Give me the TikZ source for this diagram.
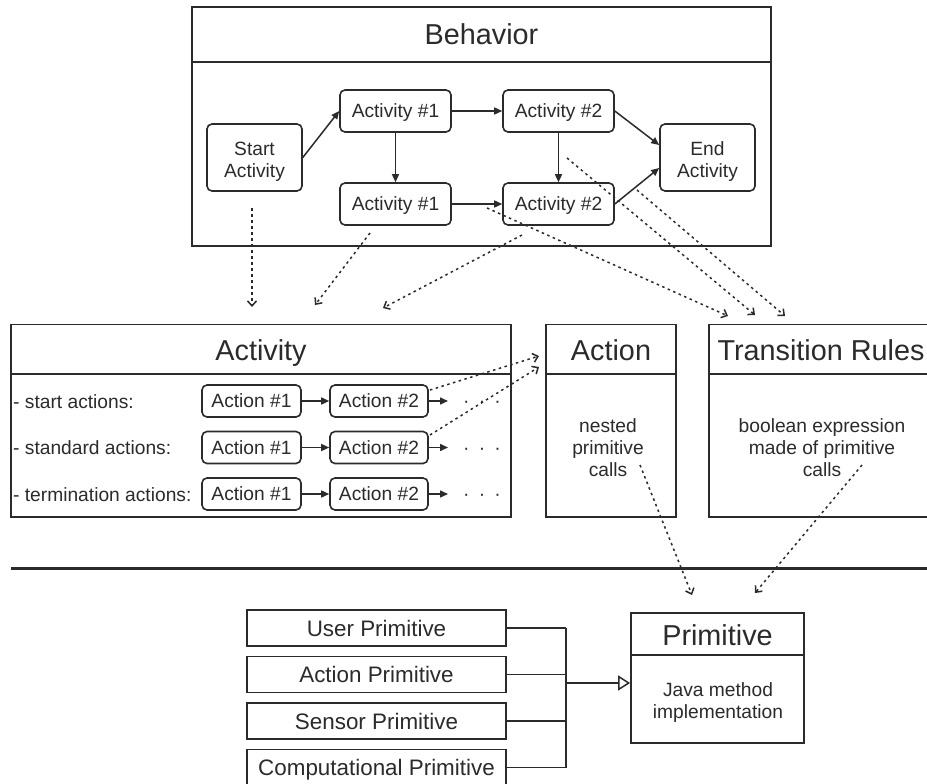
\documentclass[tikz,border=0pt]{standalone}
\usepackage{fontspec}
\setmainfont{Liberation Sans}
\usetikzlibrary{arrows.meta,calc}

\definecolor{ink}{HTML}{2B2B2B}

\tikzset{
  frame/.style={draw=ink, line width=1.8pt, inner sep=0pt, rectangle},
  divider/.style={draw=ink, line width=1.8pt},
  rbox/.style={draw=ink, line width=1.6pt, rounded corners=5pt, inner sep=0pt,
    font=\fontsize{19.2}{22}\selectfont, text=ink, text height=13.8pt, text depth=0pt},
  pbox/.style={draw=ink, line width=1.6pt, inner sep=0pt, minimum width=259pt,
    minimum height=36pt, font=\fontsize{22.4}{26}\selectfont, text=ink,
    text height=16pt, text depth=0pt},
  title/.style={anchor=base, inner sep=0pt, font=\fontsize{28.8}{34}\selectfont, text=ink},
  txt/.style={anchor=base, inner sep=0pt, font=\fontsize{19.2}{22}\selectfont, text=ink},
  flow/.style={draw=ink, line width=1.5pt, -{Triangle[length=8pt,width=7pt]}},
  wire/.style={draw=ink, line width=1.5pt},
  ref/.style={draw=ink, line width=1.5pt, dash pattern=on 2.5pt off 3.5pt,
    -{Straight Barb[length=5pt,width=9pt]}},
}

\begin{document}
\begin{tikzpicture}[x=1pt, y=-1pt]
\clip (0,0) rectangle (927,784);
\fill[white] (0,0) rectangle (927,784);

% ---------------- Behavior ----------------
\node[frame, minimum width=579pt, minimum height=239pt] (behavior) at (481.5,126.5) {};
\draw[divider] (behavior.west |- 0,62) -- (behavior.east |- 0,62);
\node[title] (behaviorT) at (481.5,45) {Behavior};

\node[rbox, minimum width=95pt, minimum height=67pt] (start) at (254.5,157.5) {};
\node[txt] (startA) at (254.5,155) {Start};
\node[txt] (startB) at (254.5,177) {Activity};

\node[rbox, minimum width=111pt, minimum height=42pt] (a1t) at (395.5,111) {Activity \#1};
\node[rbox, minimum width=111pt, minimum height=42pt] (a2t) at (558.5,111) {Activity \#2};
\node[rbox, minimum width=111pt, minimum height=42pt] (a1b) at (395.5,204) {Activity \#1};
\node[rbox, minimum width=111pt, minimum height=42pt] (a2b) at (558.5,204) {Activity \#2};

\node[rbox, minimum width=95pt, minimum height=67pt] (endact) at (707.5,157.5) {};
\node[txt] (endA) at (707.5,155) {End};
\node[txt] (endB) at (707.5,177) {Activity};

\draw[flow] (start.east) -- (a1t.west);
\draw[flow] (a1t) -- (a2t);
\draw[flow] (a1t) -- (a1b);
\draw[flow] (a2t) -- (a2b);
\draw[flow] (a1b) -- (a2b);
\draw[flow] (a2t.east) -- ($(endact.west)+(0,-12.5)$);
\draw[flow] (a2b.east) -- ($(endact.west)+(0,10.5)$);

% ---------------- Activity ----------------
\node[frame, minimum width=500pt, minimum height=192.5pt] (activity) at (261,420.75) {};
\draw[divider] (activity.west |- 0,374) -- (activity.east |- 0,374);
\node[title] (activityT) at (261,360) {Activity};

\node[txt, anchor=base west] (labS) at (13,408) {- start actions:};
\node[txt, anchor=base west] (labM) at (13,454.5) {- standard actions:};
\node[txt, anchor=base west] (labT) at (13,501) {- termination actions:};

\foreach \r/\yy in {s/401, m/447.5, t/494}{
  \node[rbox, minimum width=99pt, minimum height=32pt] (\r1) at (251.5,\yy) {Action \#1};
  \node[rbox, minimum width=98pt, minimum height=32pt] (\r2) at (379,\yy) {Action \#2};
  \coordinate (\r3) at (448,\yy);
  \draw[flow] (\r1) -- (\r2);
  \draw[flow] (\r2) -- (\r3);
  \node[txt] (\r dots) at (482,\yy+6.5) {·\hspace{9.2pt}·\hspace{9.2pt}·};
}

% ---------------- Action ----------------
\node[frame, minimum width=130pt, minimum height=192.5pt] (action) at (611,420.75) {};
\draw[divider] (action.west |- 0,374) -- (action.east |- 0,374);
\node[title] (actionT) at (611,360.5) {Action};
\node[txt] (actA) at (608,432) {nested};
\node[txt] (actB) at (608,454) {primitive};
\node[txt] (actC) at (608,476) {calls};

% ---------------- Transition Rules ----------------
\node[frame, minimum width=236pt, minimum height=192.5pt] (rules) at (827,420.75) {};
\draw[divider] (rules.west |- 0,374) -- (rules.east |- 0,374);
\node[title] (rulesT) at (821,360.5) {Transition Rules};
\node[txt] (ruleA) at (822,432) {boolean expression};
\node[txt] (ruleB) at (822,454) {made of primitive};
\node[txt] (ruleC) at (822,476) {calls};

% ---------------- separator ----------------
\coordinate (sepL) at (11,568);
\coordinate (sepR) at (927,568);
\draw[ink, line width=3pt] (sepL) -- (sepR);

% ---------------- Primitive ----------------
\node[frame, minimum width=173pt, minimum height=130pt] (prim) at (717.5,678) {};
\draw[divider] (prim.west |- 0,655) -- (prim.east |- 0,655);
\node[title] (primT) at (717.5,645) {Primitive};
\node[txt] (primA) at (718,696) {Java method};
\node[txt] (primB) at (718,718) {implementation};

\node[pbox] (user) at (376.5,628) {User Primitive};
\node[pbox] (actp) at (376.5,674.5) {Action Primitive};
\node[pbox] (sens) at (376.5,721) {Sensor Primitive};
\node[pbox] (comp) at (376.5,767.5) {Computational Primitive};

\coordinate (bus) at (566,683);
\foreach \b in {user, actp, sens, comp}
  \draw[wire] (\b.east) -- (\b.east -| bus);
\draw[wire] (user.east -| bus) -- (comp.east -| bus);
\draw[wire, -{Triangle[open, length=12pt, width=15pt, fill=white]}] (bus) -- (prim.west |- bus);

% ---------------- references (dotted) ----------------
\coordinate (r1s) at (252,208);  \coordinate (r1e) at (252,307);
\coordinate (r2s) at (370,233);  \coordinate (r2e) at (315,305);
\coordinate (r3s) at (522,235);  \coordinate (r3e) at (383,308);
\coordinate (r4s) at (487,208);  \coordinate (r4e) at (728,316);
\coordinate (r5s) at (567,158);  \coordinate (r5e) at (755,315);
\coordinate (r6s) at (637,190);  \coordinate (r6e) at (785,316);
\coordinate (r7s) at (430,390);  \coordinate (r7e) at (539,356);
\coordinate (r8s) at (430,435);  \coordinate (r8e) at (539,367);
\coordinate (r9s) at (640,465);  \coordinate (r9e) at (692,595);
\coordinate (r10s) at (862,465); \coordinate (r10e) at (755,593);
\foreach \i in {1,...,10}
  \draw[ref] (r\i s) -- (r\i e);
\end{tikzpicture}
\end{document}
